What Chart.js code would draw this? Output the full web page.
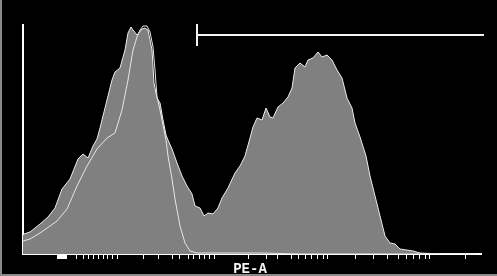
<!DOCTYPE html>
<html>
<head>
<meta charset="utf-8">
<script src="https://cdn.jsdelivr.net/npm/chart.js@4.4.1/dist/chart.umd.min.js"></script>
<style>
  html, body { margin: 0; padding: 0; background: #000; }
  #wrap { position: relative; width: 497px; height: 276px; overflow: hidden; }
  #frame-left { position: absolute; left: 0; top: 0; width: 2px; height: 276px; background: #8a8a8a; }
  #frame-bottom { position: absolute; left: 0; top: 274px; width: 497px; height: 2px; background: #8a8a8a; }
</style>
</head>
<body>
<div id="wrap">
  <canvas id="histo" width="497" height="276"></canvas>
  <div id="frame-left"></div>
  <div id="frame-bottom"></div>
</div>
<script>
// filled histogram (gray)
const grayX = [0, 1, 7, 17, 25, 32, 39, 47, 55, 60, 65, 70, 74, 77, 81, 84, 89, 92, 97, 102, 105, 108, 110, 114, 119, 122, 125,
  129, 131, 134, 137, 140, 143, 145, 149, 154, 159, 164, 169, 172, 177, 181, 185, 190, 195, 199, 205, 212, 217, 222, 227,
  230, 234, 239, 243, 247, 250, 255, 260, 265, 269, 272, 277, 282, 285, 290, 295, 299, 304, 309, 314, 319, 324, 329, 332,
  337, 343, 347, 352, 357, 362, 367, 372, 377, 390, 397, 417, 454];
const grayY = [19, 20, 22, 30, 37, 46, 65, 75, 95, 100, 96, 108, 115, 126, 142, 154, 174, 182, 186, 204, 221, 227, 224, 219, 225, 226, 224,
  204, 171, 156, 151, 134, 119, 114, 105, 91, 78, 68, 60, 48, 46, 38, 41, 40, 46, 56, 66, 81, 88, 98, 116,
  127, 136, 134, 146, 137, 136, 147, 151, 157, 166, 186, 191, 187, 194, 196, 202, 197, 199, 194, 184, 176, 156, 146, 131,
  117, 98, 78, 58, 38, 18, 11, 10, 5, 3, 1, 0, 0];

// overlay histogram (white outline)
const whiteX = [0, 7, 17, 27, 34, 44, 54, 64, 74, 84, 92, 99, 105, 110, 114, 117, 120, 124, 127, 130, 132, 134, 137, 140, 143,
  145, 149, 152, 157, 162, 167, 174, 207, 237, 277, 454];
const whiteY = [13, 15, 21, 28, 33, 45, 68, 88, 105, 116, 121, 144, 174, 204, 217, 224, 228, 228, 222, 207, 184, 157, 144, 129, 114,
  98, 75, 55, 28, 11, 3, 1, 1, 1, 0, 0];

// gate marker
const gateX = [174, 461];
const gateLevel = 219;
const gateCap = [208, 230];

// axis ticks (biexponential-looking layout)
const tickVals = [39, 53, 60, 65, 70, 75, 80, 84, 89, 94, 120, 135, 149, 156, 165, 170, 176, 181, 186, 191,
  225, 243, 254, 268, 275, 282, 288, 294, 300, 304, 332, 350, 364, 375, 383, 390, 396, 402, 406, 442];
const blockTick = 39;

function pts(xs, ys) {
  return xs.map((x, i) => ({ x: x, y: ys[i] }));
}

const gatePts = [
  { x: gateX[0], y: gateCap[0] }, { x: gateX[0], y: gateCap[1] }, { x: gateX[0], y: gateLevel },
  { x: gateX[1], y: gateLevel }, { x: gateX[1], y: gateCap[1] }, { x: gateX[1], y: gateCap[0] }
];

new Chart(document.getElementById('histo').getContext('2d'), {
  type: 'line',
  data: {
    datasets: [
      {
        data: pts(grayX, grayY),
        borderColor: '#ececec',
        borderWidth: 1,
        backgroundColor: '#808080',
        fill: 'origin',
        order: 3
      },
      {
        data: pts(whiteX, whiteY),
        borderColor: '#e6e6e6',
        borderWidth: 1,
        fill: false,
        order: 2
      },
      {
        data: gatePts,
        borderColor: '#f2f2f2',
        borderWidth: 2,
        fill: false,
        clip: false,
        order: 1
      }
    ]
  },
  options: {
    responsive: false,
    animation: false,
    events: [],
    elements: { point: { radius: 0 }, line: { tension: 0 } },
    layout: { padding: { left: 23, right: 20, top: 25, bottom: 0 } },
    plugins: { legend: { display: false }, tooltip: { enabled: false } },
    scales: {
      x: {
        type: 'linear',
        min: 0,
        max: 454,
        afterFit: function (s) { s.height = 22; },
        afterBuildTicks: function (s) { s.ticks = tickVals.map(v => ({ value: v })); },
        ticks: { display: false, autoSkip: false },
        grid: {
          drawOnChartArea: false,
          drawTicks: true,
          tickLength: 5,
          color: '#ffffff',
          lineWidth: c => (c.tick && c.tick.value === blockTick ? 10 : 1)
        },
        border: { display: true, color: '#ffffff', width: 2 },
        title: {
          display: true,
          text: 'PE-A',
          color: '#f4f4f4',
          padding: 0,
          font: { family: 'Liberation Mono', size: 14, weight: 'bold', lineHeight: 1 }
        }
      },
      y: {
        min: 0,
        max: 229,
        afterFit: function (s) { s.width = 0; },
        ticks: { display: false },
        grid: { display: false },
        border: { display: true, color: '#ffffff', width: 2 }
      }
    }
  }
});
</script>
</body>
</html>
